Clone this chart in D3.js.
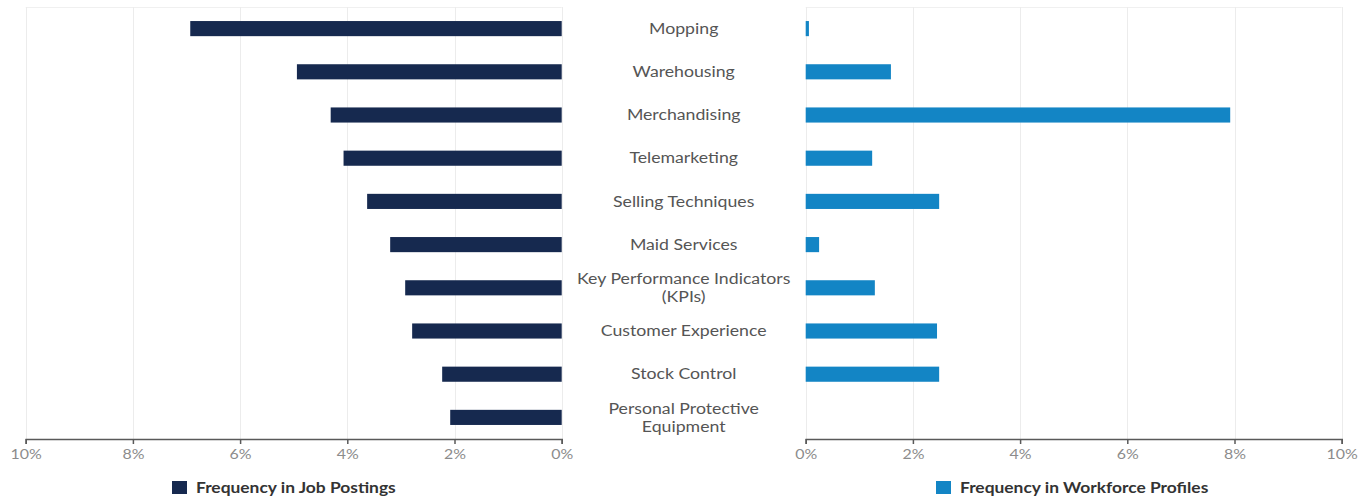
<!DOCTYPE html>
<html>
<head>
<meta charset="utf-8">
<script src="https://cdn.jsdelivr.net/npm/d3@7"></script>
<style>
  html, body { margin: 0; padding: 0; background: #fff; }
  svg { display: block; font-family: Lato, "Open Sans", sans-serif; }
</style>
</head>
<body>
<svg id="chart" width="1362" height="501"></svg>
<script>
// Skills compared: share of job postings vs share of workforce profiles (%)
const skills = [
  "Mopping",
  "Warehousing",
  "Merchandising",
  "Telemarketing",
  "Selling Techniques",
  "Maid Services",
  "Key Performance Indicators (KPIs)",
  "Customer Experience",
  "Stock Control",
  "Personal Protective Equipment"
];
const skillLines = [
  ["Mopping"],
  ["Warehousing"],
  ["Merchandising"],
  ["Telemarketing"],
  ["Selling Techniques"],
  ["Maid Services"],
  ["Key Performance Indicators", "(KPIs)"],
  ["Customer Experience"],
  ["Stock Control"],
  ["Personal Protective", "Equipment"]
];
const jobPostings = [6.93, 4.94, 4.31, 4.07, 3.63, 3.20, 2.92, 2.79, 2.23, 2.08];
const workforceProfiles = [0.06, 1.59, 7.92, 1.24, 2.49, 0.25, 1.29, 2.45, 2.49, 0];
const tickValues = [0, 2, 4, 6, 8, 10];
const seriesNames = ["Frequency in Job Postings", "Frequency in Workforce Profiles"];
const seriesColors = ["#16294f", "#1385c5"];

const svg = d3.select("#chart");

// the text face is drawn slightly widened
const textStretch = 1.18;

const plotTop = 7, plotBottom = 439;
const leftPanel = { x0: 25.7, x1: 561.7 };
const rightPanel = { x0: 805.7, x1: 1341.7 };

const y = d3.scaleBand()
  .domain(skills)
  .range([plotTop, plotBottom])
  .paddingInner(0.65)
  .paddingOuter(0.325);

const xLeft = d3.scaleLinear().domain([10, 0]).range([leftPanel.x0, leftPanel.x1]);
const xRight = d3.scaleLinear().domain([0, 10]).range([rightPanel.x0, rightPanel.x1]);

function drawPanel(x, values, color, panel) {
  const g = svg.append("g");

  // light frame line along the top of the plot area
  g.append("line")
    .attr("x1", panel.x0).attr("x2", panel.x1)
    .attr("y1", plotTop + 0.5).attr("y2", plotTop + 0.5)
    .attr("stroke", "#f0f0f0").attr("stroke-width", 1);

  // vertical gridlines
  g.selectAll("line.grid")
    .data(tickValues)
    .join("line")
    .attr("class", "grid")
    .attr("x1", d => Math.round(x(d)) + 0.5)
    .attr("x2", d => Math.round(x(d)) + 0.5)
    .attr("y1", plotTop)
    .attr("y2", plotBottom)
    .attr("stroke", "#ececec")
    .attr("stroke-width", 1);

  // bars
  g.selectAll("rect.bar")
    .data(values)
    .join("rect")
    .attr("class", "bar")
    .attr("x", d => Math.min(x(0), x(d)))
    .attr("width", d => Math.abs(x(d) - x(0)))
    .attr("y", (d, i) => y(skills[i]))
    .attr("height", y.bandwidth())
    .attr("fill", color);

  // bottom axis
  const axis = d3.axisBottom(x)
    .tickValues(tickValues)
    .tickFormat(d => d + "%")
    .tickSizeInner(5)
    .tickSizeOuter(5)
    .tickPadding(5);

  const ax = g.append("g")
    .attr("transform", `translate(0,${plotBottom})`)
    .call(axis);
  ax.select(".domain").attr("stroke", "#595959").attr("stroke-width", 1.5);
  ax.selectAll(".tick line").attr("stroke", "#595959").attr("stroke-width", 1.5);
  ax.selectAll(".tick text")
    .attr("fill", "#8c8c8c")
    .attr("transform", `scale(${textStretch},1)`)
    .style("font-size", "13.5px")
    .style("font-family", "Lato, sans-serif");
}

drawPanel(xLeft, jobPostings, seriesColors[0], leftPanel);
drawPanel(xRight, workforceProfiles, seriesColors[1], rightPanel);

// category labels in the centre gutter
const labelX = (leftPanel.x1 + rightPanel.x0) / 2;
const labels = svg.append("g")
  .attr("fill", "#555")
  .style("font-size", "15px")
  .attr("text-anchor", "middle");

skills.forEach((s, i) => {
  const lines = skillLines[i];
  const cy = y(s) + y.bandwidth() / 2;
  const lh = 18;
  const t = labels.append("text")
    .attr("transform", `translate(${labelX},${cy - (lines.length - 1) * lh / 2}) scale(${textStretch},1)`);
  lines.forEach((ln, j) => {
    t.append("tspan")
      .attr("x", 0)
      .attr("dy", j === 0 ? "0.35em" : lh)
      .text(ln);
  });
});

// legends
const legendItems = [
  { x: 172, name: seriesNames[0], color: seriesColors[0] },
  { x: 936, name: seriesNames[1], color: seriesColors[1] }
];
const lg = svg.append("g");
legendItems.forEach(item => {
  lg.append("rect")
    .attr("x", item.x).attr("y", 481)
    .attr("width", 15).attr("height", 13)
    .attr("fill", item.color);
  lg.append("text")
    .attr("transform", `translate(${item.x + 24},488) scale(1.2,1)`)
    .attr("dy", "0.35em")
    .attr("fill", "#333")
    .style("font-size", "14.5px")
    .style("font-weight", "bold")
    .text(item.name);
});
</script>
</body>
</html>
